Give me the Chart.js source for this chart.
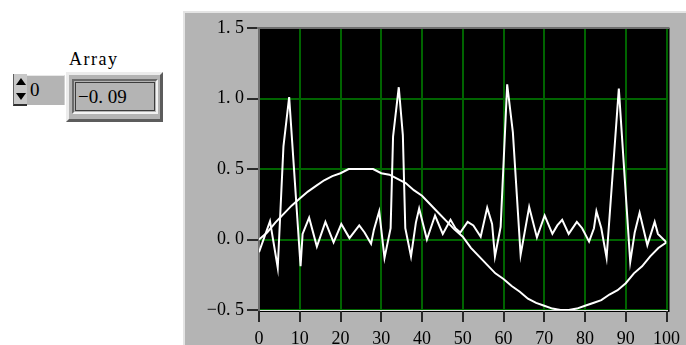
<!DOCTYPE html>
<html>
<head>
<meta charset="utf-8">
<script src="https://cdn.jsdelivr.net/npm/chart.js@4"></script>
<style>
  html, body { margin: 0; padding: 0; background: #ffffff; }
  body { width: 686px; height: 345px; position: relative; overflow: hidden; }
  .abs { position: absolute; box-sizing: border-box; }
  #panel {
    left: 183px; top: 11px; width: 503px; height: 334px;
    background: #b4b4b4;
    border-top: 2px solid #e4e4e4; border-left: 2px solid #e4e4e4;
  }
  #chartBox { left: 183px; top: 12px; width: 503px; height: 333px; }
  #label { left: 69px; top: 49px; font: 18px "Liberation Serif", serif; letter-spacing: 1.5px; color: #000; }
  #arrows {
    left: 13px; top: 74px; width: 14px; height: 32px;
    background: #c8c8c8; border-bottom: 2px solid #303030; border-left: 1px solid #606060;
  }
  .tri { position: absolute; left: 2px; width: 0; height: 0; border-left: 5px solid transparent; border-right: 5px solid transparent; }
  #up { top: 4px; border-bottom: 7px solid #000; }
  #down { top: 19px; border-top: 7px solid #000; }
  #index {
    left: 27px; top: 75px; width: 38px; height: 30px; background: #b4b4b4;
    border-top: 1px solid #e8e8e8; border-right: 1px solid #d0d0d0;
    font: 19px "Liberation Serif", serif; line-height: 28px; padding-left: 3px;
  }
  #valueOuter {
    left: 66px; top: 72px; width: 97px; height: 50px; background: #b4b4b4;
    border: 3px solid; border-color: #ececec #5c5c5c #5c5c5c #ececec;
  }
  #valueInner {
    left: 72px; top: 79px; width: 86px; height: 35px; background: #b4b4b4;
    border: 2px solid; border-color: #6a6a6a #f2f2f2 #f2f2f2 #6a6a6a;
  }
  #valueBox {
    left: 75px; top: 82px; width: 80px; height: 29px; background: #b4b4b4;
    border: 1px solid #3c3c3c;
    font: 19px "Liberation Serif", serif; line-height: 27px; padding-left: 2px; color: #000;
  }
</style>
</head>
<body>
<div id="panel" class="abs"></div>
<div id="label" class="abs">Array</div>
<div id="arrows" class="abs"><div id="up" class="tri"></div><div id="down" class="tri"></div></div>
<div id="index" class="abs">0</div>
<div id="valueOuter" class="abs"></div>
<div id="valueInner" class="abs"></div>
<div id="valueBox" class="abs">&minus;0. 09</div>
<div id="chartBox" class="abs"><canvas id="graph" width="503" height="333"></canvas></div>

<script>
/* --------------- Data ---------------------------------------- */
// spiky trace, vertices as seen on the plot
const spikeX = [0, 2.7, 4.6, 6.0, 7.4, 10.2, 10.7, 12.3, 14.2, 16.3, 18.3, 20.2, 22.2, 24.6, 25.9, 27.5, 28.2, 29.5,
  30.8, 32.3, 32.9, 34.3, 35.3, 35.9, 37.3, 38.5, 39.3, 41.2, 43.2, 45.1, 47.0, 48.2, 49.4, 51.2, 52.6, 54.4,
  56.0, 57.2, 57.9, 59.3, 60.9, 62.3, 64.2, 66.3, 68.2, 70.1, 72.0, 73.2, 74.4, 76.0, 78.0, 79.3, 81.0, 82.2,
  82.8, 84.0, 85.3, 88.3, 91.1, 92.2, 93.4, 95.3, 97.1, 97.9, 100];
const spikeY = [-0.09, 0.13, -0.20, 0.66, 1.01, -0.19, 0.04, 0.155, -0.05, 0.125, -0.02, 0.11, 0.01, 0.10, 0.05, -0.03, 0.07, 0.20,
  -0.13, 0.08, 0.73, 1.08, 0.74, 0.08, -0.12, 0.12, 0.22, 0.0, 0.17, 0.04, 0.14, 0.08, 0.05, 0.125, 0.10, 0.02,
  0.225, 0.11, -0.12, 0.09, 1.10, 0.76, -0.11, 0.23, 0.015, 0.17, 0.04, 0.10, 0.14, 0.04, 0.125, 0.08, -0.015, 0.08,
  0.20, 0.08, -0.13, 1.07, -0.16, 0.05, 0.19, -0.04, 0.125, 0.04, -0.02];

// sine-like trace
const sineX = [0, 2, 4, 6, 8, 10, 12, 14, 16, 18, 20, 22, 24, 26, 28, 30, 32, 34, 36, 38, 40, 42, 44, 46, 48, 50,
  52, 54, 56, 58, 60, 62, 64, 66, 68, 70, 72, 74, 76, 78, 80, 82, 84, 86, 88, 90, 92, 94, 96, 98, 100];
const sineY = [0.0, 0.05, 0.12, 0.18, 0.24, 0.29, 0.34, 0.38, 0.42, 0.45, 0.47, 0.50, 0.50, 0.50, 0.50, 0.47, 0.46,
  0.43, 0.40, 0.35, 0.31, 0.25, 0.19, 0.13, 0.07, 0.02, -0.06, -0.12, -0.18, -0.24, -0.28, -0.33, -0.37, -0.42,
  -0.45, -0.47, -0.49, -0.50, -0.50, -0.49, -0.47, -0.45, -0.43, -0.39, -0.36, -0.31, -0.24, -0.19, -0.12, -0.06, -0.02];

// axis ticks
const xTicks = [0, 10, 20, 30, 40, 50, 60, 70, 80, 90, 100];
const yTicks = [-0.5, 0.0, 0.5, 1.0, 1.5];

/* --------------- Plot background + frame --------------------- */
const plotFrame = {
  id: "plotFrame",
  beforeDraw(chart) {
    const a = chart.chartArea, ctx = chart.ctx;
    ctx.save();
    ctx.fillStyle = "#000000";
    ctx.fillRect(a.left - 1, a.top, a.right - a.left + 4, a.bottom - a.top + 2);
    ctx.restore();
  },
  afterDraw(chart) {
    const a = chart.chartArea, ctx = chart.ctx;
    ctx.save();
    ctx.fillStyle = "#6e6e6e";
    ctx.fillRect(a.left - 2, a.top - 1, a.right - a.left + 5, 2);
    ctx.restore();
  },
};

const toPoints = (xs, ys) => xs.map((x, i) => ({ x: x, y: ys[i] }));
const labelFont = { family: "'Liberation Serif', serif", size: 18 };

/* --------------- Chart --------------------- */
new Chart(document.getElementById("graph"), {
  type: "scatter",
  plugins: [plotFrame],
  data: {
    datasets: [
      { data: toPoints(sineX, sineY), showLine: true, borderColor: "#ffffff", borderWidth: 2, pointRadius: 0, tension: 0 },
      { data: toPoints(spikeX, spikeY), showLine: true, borderColor: "#ffffff", borderWidth: 2, pointRadius: 0, tension: 0 },
    ],
  },
  options: {
    responsive: false,
    devicePixelRatio: 1,
    animation: false,
    layout: { padding: { left: 0, top: 16, right: 19, bottom: 0 } },
    plugins: { legend: { display: false }, tooltip: { enabled: false } },
    scales: {
      x: {
        type: "linear",
        min: 0,
        max: 100,
        afterFit: (s) => { s.height = 35; },
        afterBuildTicks: (s) => { s.ticks = xTicks.map((v) => ({ value: v })); },
        grid: { color: "#006400", lineWidth: 2, tickColor: "#2a2a2a", tickLength: 12 },
        border: { color: "#e6e6e6", width: 1 },
        ticks: { color: "#000", font: labelFont, padding: 6, autoSkip: false, maxRotation: 0, callback: (v) => String(v) },
      },
      y: {
        type: "linear",
        min: -0.5,
        max: 1.5,
        afterFit: (s) => { s.width = 76; },
        afterBuildTicks: (s) => { s.ticks = yTicks.map((v) => ({ value: v })); },
        grid: { color: "#006400", lineWidth: 2, tickColor: "#2a2a2a", tickLength: 12 },
        border: { color: "#6e6e6e", width: 2 },
        ticks: {
          color: "#000",
          font: labelFont,
          padding: 3,
          autoSkip: false,
          callback: (v) => v.toFixed(1).replace("-", "\u2212").replace(".", ". "),
        },
      },
    },
  },
});
</script>
</body>
</html>
